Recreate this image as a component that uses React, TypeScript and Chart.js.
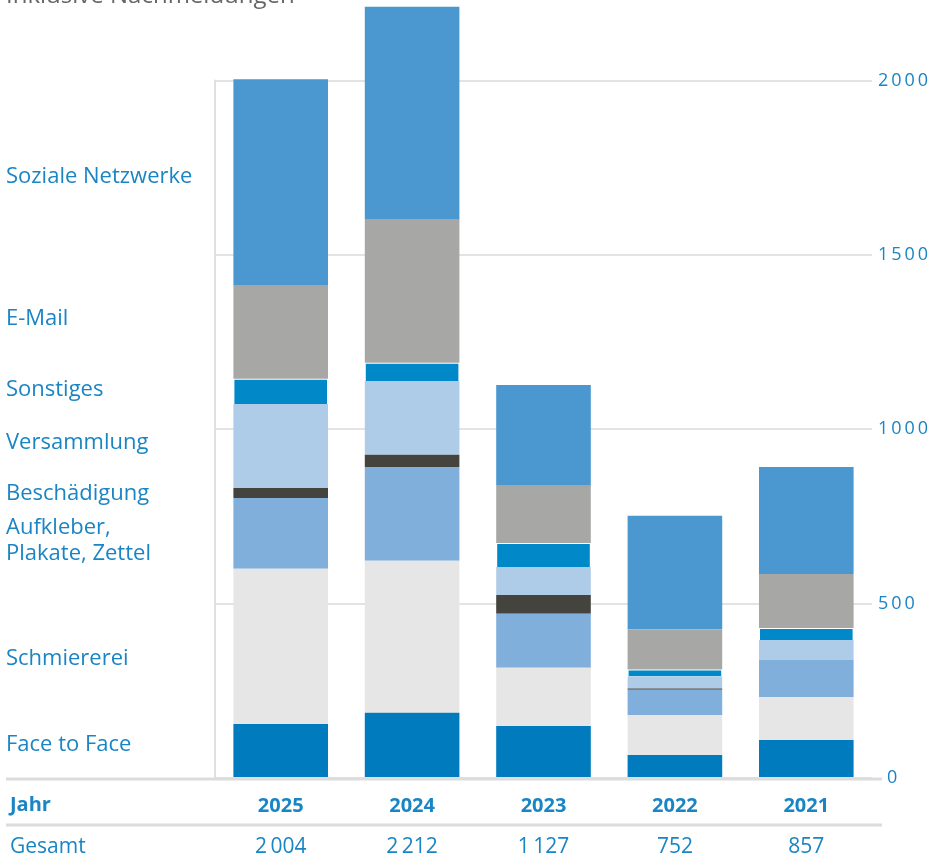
import React, { useEffect, useRef } from 'react';
import { Chart, registerables } from 'chart.js';

Chart.register(...registerables);

const categories = ['2025', '2024', '2023', '2022', '2021'];
const totals = [2004, 2212, 1127, 752, 857];

const faceToFace = [155, 187, 149, 66, 109];
const schmiererei = [445, 436, 167, 115, 123];
const aufkleber = [203, 269, 155, 72, 107];
const beschaedigung = [29, 35, 54, 4, 0];
const versammlung = [241, 212, 80, 34, 57];
const sonstiges = [72, 52, 69, 20, 34];
const email = [267, 410, 164, 115, 155];
const sozialeNetzwerke = [592, 611, 289, 326, 307];

const yTicks = [0, 500, 1000, 1500, 2000];

const seriesNames = [
  'Face to Face',
  'Schmiererei',
  'Aufkleber,\nPlakate, Zettel',
  'Beschädigung',
  'Versammlung',
  'Sonstiges',
  'E-Mail',
  'Soziale Netzwerke',
];
const seriesValues = [faceToFace, schmiererei, aufkleber, beschaedigung, versammlung, sonstiges, email, sozialeNetzwerke];
const seriesColors = ['#007bbd', '#e6e6e6', '#80afdb', '#45433e', '#aecbe8', '#0088c8', '#a7a8a5', '#4a98cf'];

const BLUE = '#1a85c4';
const FONT = '"Open Sans", "Noto Sans", sans-serif';
const LABEL_OFFSETS = [-6, 12, 7, 1, -3, -2, -14, -6];

function fmt(n: number): string {
  const s = String(n);
  if (s.length > 3) return s.slice(0, s.length - 3) + '\u2009' + s.slice(s.length - 3);
  return s;
}

const overlayPlugin = {
  id: 'overlay',
  afterDraw(chart: any) {
    const ctx = chart.ctx as CanvasRenderingContext2D;
    const x = chart.scales.x;
    const y = chart.scales.y;
    const area = chart.chartArea;
    const y0 = y.getPixelForValue(0);
    ctx.save();

    // left vertical line
    ctx.strokeStyle = '#e0e0e0';
    ctx.lineWidth = 2;
    ctx.beginPath();
    ctx.moveTo(area.left, y.getPixelForValue(2000) - 1);
    ctx.lineTo(area.left, y0);
    ctx.stroke();

    // baseline and table line
    ctx.strokeStyle = '#dcdcdc';
    ctx.lineWidth = 3;
    ctx.beginPath();
    ctx.moveTo(6, y0 + 1);
    ctx.lineTo(882, y0 + 1);
    ctx.moveTo(6, 825);
    ctx.lineTo(882, 825);
    ctx.stroke();

    // top caption
    ctx.fillStyle = '#666';
    ctx.font = `24px ${FONT}`;
    ctx.textAlign = 'left';
    ctx.textBaseline = 'alphabetic';
    ctx.fillText('Inklusive Nachmeldungen', 6, 3);

    // series labels aligned to 2025 segments
    ctx.fillStyle = BLUE;
    ctx.font = `22px ${FONT}`;
    ctx.textBaseline = 'middle';
    let cum = 0;
    seriesValues.forEach((vals, i) => {
      const v = vals[0];
      const mid = y.getPixelForValue(cum + v / 2) + LABEL_OFFSETS[i];
      cum += v;
      const lines = seriesNames[i].split('\n');
      const lh = 26;
      lines.forEach((ln, k) => {
        ctx.fillText(ln, 6, mid + (k - (lines.length - 1) / 2) * lh);
      });
    });

    // table row labels
    ctx.font = `bold 20px ${FONT}`;
    ctx.fillText('Jahr', 10, 805);
    ctx.font = `21px ${FONT}`;
    ctx.fillText('Gesamt', 10, 847);
    ctx.textAlign = 'center';
    totals.forEach((t, i) => {
      ctx.fillText(fmt(t), x.getPixelForValue(i), 847);
    });
    ctx.restore();
  },
};

export default function App() {
  const ref = useRef<HTMLCanvasElement>(null);
  useEffect(() => {
    if (!ref.current) return;
    const chart = new Chart(ref.current, {
      type: 'bar',
      data: {
        labels: categories,
        datasets: seriesValues.map((vals, i) => ({
          label: seriesNames[i],
          data: vals,
          backgroundColor: seriesColors[i],
          borderWidth: i === 5 ? 1 : 0,
          borderColor: 'rgba(255,255,255,0.35)',
          categoryPercentage: 1,
          barPercentage: 0.72,
        })),
      },
      options: {
        animation: false,
        responsive: false,
        devicePixelRatio: 1,
        layout: { padding: { left: 215, top: 4, right: 0, bottom: 0 } },
        plugins: { legend: { display: false }, tooltip: { enabled: false } },
        scales: {
          x: {
            stacked: true,
            grid: { display: false, drawTicks: false },
            border: { display: false },
            ticks: {
              color: BLUE,
              font: { family: FONT, size: 20, weight: 'bold' },
              padding: 16,
            },
            afterFit: (s: any) => {
              s.height = 78;
              s.paddingLeft = 0;
              s.paddingRight = 0;
            },
          },
          y: {
            stacked: true,
            position: 'right',
            min: 0,
            max: 2220,
            afterBuildTicks: (axis: any) => {
              axis.ticks = yTicks.map((v) => ({ value: v }));
            },
            grid: { color: '#e3e3e3', lineWidth: 2, drawTicks: false },
            border: { display: false },
            ticks: {
              color: BLUE,
              font: { family: FONT, size: 18 },
              padding: 6,
              callback: (v: any) => (v === 0 ? '\u2002' : '') + String(v).split('').join('\u2009'),
            },
            afterFit: (s: any) => {
              s.width = 67;
              s.paddingTop = 0;
              s.paddingBottom = 0;
            },
          },
        },
      },
      plugins: [overlayPlugin],
    });
    return () => chart.destroy();
  }, []);
  return (
    <div style={{ position: 'absolute', left: 0, top: 0, width: 939, height: 856, background: '#fff' }}>
      <canvas ref={ref} width={939} height={856} style={{ width: 939, height: 856 }} />
    </div>
  );
}
